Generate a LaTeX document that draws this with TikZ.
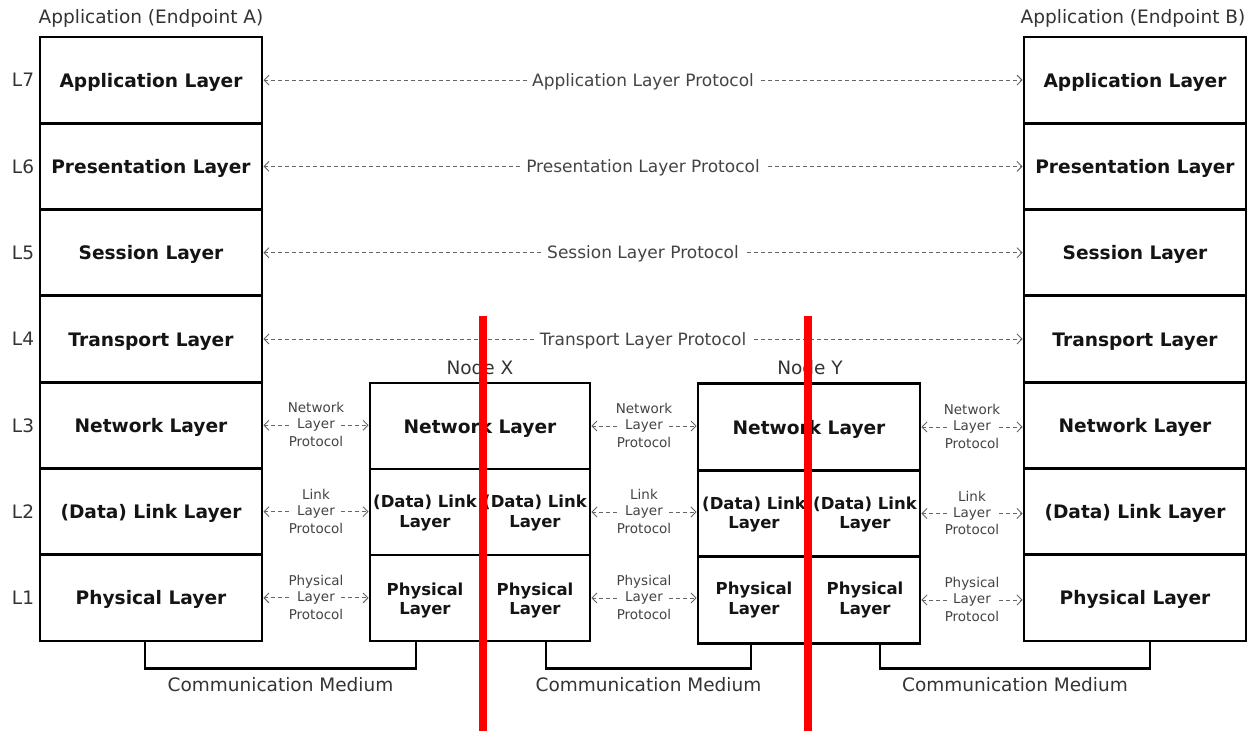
\documentclass[tikz,border=0pt]{standalone}
\usepackage{fontspec}
\setmainfont{DejaVu Sans}
\usetikzlibrary{arrows.meta}
\definecolor{inkgray}{HTML}{333333}
\definecolor{protogray}{HTML}{444444}
\definecolor{dashgray}{HTML}{666666}
\definecolor{barred}{HTML}{FF0000}

\tikzset{
  layer/.style={draw=black, line width=2.8pt, minimum width=222pt,
    minimum height=86.3pt, inner sep=0pt, text=black!92,
    text height=16pt, text depth=2pt,
    font=\bfseries\fontsize{18.6}{21}\selectfont},
  halftext/.style={inner sep=0pt, align=center, text=black!92,
    font=\bfseries\fontsize{16.5}{19.5}\selectfont},
  proto/.style={draw=dashgray, line width=0.9pt, dash pattern=on 4pt off 3pt,
    {Straight Barb[length=5pt,width=10pt]}-{Straight Barb[length=5pt,width=10pt]}},
  protolbl/.style={fill=white, text=protogray, inner xsep=5pt,
    text height=14pt, text depth=1.6pt, font=\fontsize{17}{20}\selectfont},
  sidelbl/.style={fill=white, text=protogray, inner xsep=6pt, inner ysep=0pt,
    text height=10pt, text depth=3pt, font=\fontsize{13.5}{17}\selectfont},
  sideup/.style={text=protogray, inner sep=0pt, text height=10pt,
    text depth=3pt, font=\fontsize{13.5}{17}\selectfont, yshift=2pt},
  sidedown/.style={sideup, yshift=-6pt},
  title/.style={text=inkgray, inner sep=0pt, font=\fontsize{18.5}{21}\selectfont},
  medium/.style={draw=black, line width=2.8pt},
  redbar/.style={draw=barred, line width=8pt},
}

\begin{document}
\begin{tikzpicture}[x=1pt, y=-1pt]
\useasboundingbox[fill=white] (0,0) rectangle (1248,731);

% ---- Endpoint A stack ----
\node[title] (titleA) at (151,18) {Application (Endpoint A)};
\node[layer] (a7) at (151,80.1)  {Application Layer};
\node[layer] (a6) at (151,166.4) {Presentation Layer};
\node[layer] (a5) at (151,252.7) {Session Layer};
\node[layer] (a4) at (151,339.0) {Transport Layer};
\node[layer] (a3) at (151,425.3) {Network Layer};
\node[layer] (a2) at (151,511.6) {(Data) Link Layer};
\node[layer] (a1) at (151,597.9) {Physical Layer};

% ---- layer numbers ----
\node[title] (l7) at (23,80.1)  {L7};
\node[title] (l6) at (23,166.4) {L6};
\node[title] (l5) at (23,252.7) {L5};
\node[title] (l4) at (23,339.0) {L4};
\node[title] (l3) at (23,425.3) {L3};
\node[title] (l2) at (23,511.6) {L2};
\node[title] (l1) at (23,597.9) {L1};

% ---- Endpoint B stack ----
\node[title] (titleB) at (1133,18) {Application (Endpoint B)};
\node[layer] (b7) at (1135,80.1)  {Application Layer};
\node[layer] (b6) at (1135,166.4) {Presentation Layer};
\node[layer] (b5) at (1135,252.7) {Session Layer};
\node[layer] (b4) at (1135,339.0) {Transport Layer};
\node[layer] (b3) at (1135,425.3) {Network Layer};
\node[layer] (b2) at (1135,511.6) {(Data) Link Layer};
\node[layer] (b1) at (1135,597.9) {Physical Layer};

% ---- Node X ----
\node[title] (titleX) at (480,368) {Node X};
\node[layer, minimum width=220pt, minimum height=86pt] (x3) at (480,426) {Network Layer};
\node[layer, minimum width=220pt, minimum height=86pt] (x2) at (480,512) {};
\node[layer, minimum width=220pt, minimum height=86pt] (x1) at (480,598) {};
\node[halftext] (x2l) at (425,513) {(Data) Link\\Layer};
\node[halftext] (x2r) at (535,513) {(Data) Link\\Layer};
\node[halftext] (x1l) at (425,600.5) {Physical\\Layer};
\node[halftext] (x1r) at (535,600.5) {Physical\\Layer};

% ---- Node Y ----
\node[title] (titleY) at (810,368) {Node Y};
\node[layer, minimum height=86.5pt] (y3) at (809,427)   {Network Layer};
\node[layer, minimum height=86.5pt] (y2) at (809,513.5) {};
\node[layer, minimum height=86.5pt] (y1) at (809,600)   {};
\node[halftext] (y2l) at (754,514.5) {(Data) Link\\Layer};
\node[halftext] (y2r) at (865,514.5) {(Data) Link\\Layer};
\node[halftext] (y1l) at (754,600) {Physical\\Layer};
\node[halftext] (y1r) at (865,600) {Physical\\Layer};

% ---- end-to-end protocols ----
\draw[proto] (a7.east) -- (b7.west) node[protolbl, midway] (p7) {Application Layer Protocol};
\draw[proto] (a6.east) -- (b6.west) node[protolbl, midway] (p6) {Presentation Layer Protocol};
\draw[proto] (a5.east) -- (b5.west) node[protolbl, midway] (p5) {Session Layer Protocol};
\draw[proto] (a4.east) -- (b4.west) node[protolbl, midway] (p4) {Transport Layer Protocol};

% ---- hop-by-hop protocols ----
\draw[proto] (a3.east) -- (a3.east -| x3.west) node[sidelbl, midway,
  label={[sideup]above:Network}, label={[sidedown]below:Protocol}] (ax3) {Layer};
\draw[proto] (a2.east) -- (a2.east -| x2.west) node[sidelbl, midway,
  label={[sideup]above:Link}, label={[sidedown]below:Protocol}] (ax2) {Layer};
\draw[proto] (a1.east) -- (a1.east -| x1.west) node[sidelbl, midway,
  label={[sideup]above:Physical}, label={[sidedown]below:Protocol}] (ax1) {Layer};

\draw[proto] (x3.east) -- (x3.east -| y3.west) node[sidelbl, midway,
  label={[sideup]above:Network}, label={[sidedown]below:Protocol}] (xy3) {Layer};
\draw[proto] (x2.east) -- (x2.east -| y2.west) node[sidelbl, midway,
  label={[sideup]above:Link}, label={[sidedown]below:Protocol}] (xy2) {Layer};
\draw[proto] (x1.east) -- (x1.east -| y1.west) node[sidelbl, midway,
  label={[sideup]above:Physical}, label={[sidedown]below:Protocol}] (xy1) {Layer};

\draw[proto] (y3.east) -- (y3.east -| b3.west) node[sidelbl, midway,
  label={[sideup]above:Network}, label={[sidedown]below:Protocol}] (yb3) {Layer};
\draw[proto] (y2.east) -- (y2.east -| b2.west) node[sidelbl, midway,
  label={[sideup]above:Link}, label={[sidedown]below:Protocol}] (yb2) {Layer};
\draw[proto] (y1.east) -- (y1.east -| b1.west) node[sidelbl, midway,
  label={[sideup]above:Physical}, label={[sidedown]below:Protocol}] (yb1) {Layer};

% ---- communication media ----
\draw[medium] ([xshift=-6pt]a1.south) -- ++(0,26) -| ([xshift=-64pt]x1.south)
  node[title, pos=0.25, yshift=-16pt] (m1) {Communication Medium};
\draw[medium] ([xshift=66pt]x1.south) -- ++(0,26) -| ([xshift=-58pt]y1.south)
  node[title, pos=0.25, yshift=-16pt] (m2) {Communication Medium};
\draw[medium] ([xshift=71pt]y1.south) -- ++(0,24) -| ([xshift=15pt]b1.south)
  node[title, pos=0.25, yshift=-16pt] (m3) {Communication Medium};

% ---- red division bars ----
\draw[redbar] (482.5,316) -- (482.5,731);
\draw[redbar] (808,316) -- (808,731);
\end{tikzpicture}
\end{document}
